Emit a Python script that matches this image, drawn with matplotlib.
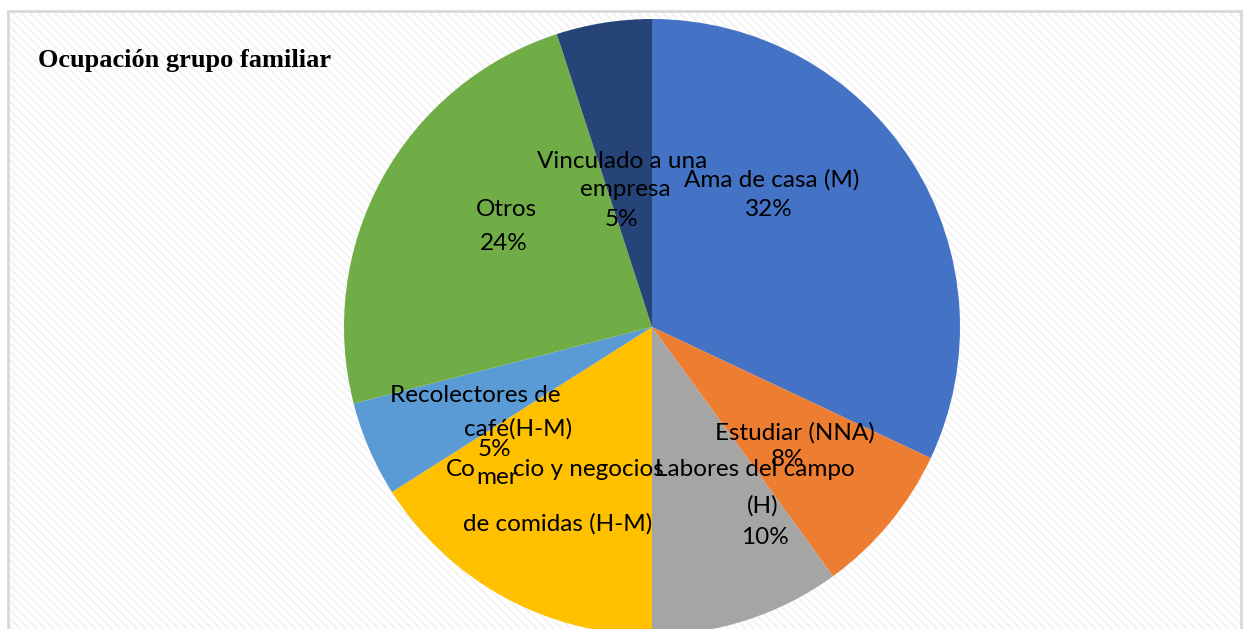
import matplotlib.pyplot as plt
from matplotlib.patches import Rectangle

# datos
ocupaciones = ["Ama de casa (M)", "Estudiar (NNA)", "Labores del campo (H)",
               "Comercio y negocios de comidas (H-M)", "Recolectores de café(H-M)",
               "Otros", "Vinculado a una empresa"]
porcentajes = [32, 8, 10, 16, 5, 24, 5]
colores = ["#4472C4", "#ED7D31", "#A5A5A5", "#FFC000", "#5B9BD5", "#70AD47", "#264478"]
titulo = "Ocupación grupo familiar"

W, H = 1246, 629
plt.rcParams['hatch.linewidth'] = 1.5

fig = plt.figure(figsize=(W / 100, H / 100), dpi=100)
ax = fig.add_axes([0, 0, 1, 1])

def py(y):
    # pixel (desde arriba) -> dato
    return H - y

# fondo con trama y borde
ax.add_patch(Rectangle((8, py(H + 5)), 1233, H + 5 - 11, facecolor='white',
                       edgecolor='#f3f3f3', hatch='\\\\\\\\', lw=0, zorder=0))
ax.add_patch(Rectangle((8, py(H + 5)), 1233, H + 5 - 11, facecolor='none',
                       edgecolor='#d9d9d9', lw=2, zorder=5))

ax.pie(porcentajes, colors=colores, startangle=90, counterclock=False,
       center=(652, py(327)), radius=308, frame=True,
       wedgeprops=dict(linewidth=0), normalize=True)
ax.set_xlim(0, W)
ax.set_ylim(0, H)
ax.set_aspect('auto')
ax.axis('off')

ax.text(38, py(61), titulo, fontsize=19, fontweight='bold',
        family='Liberation Serif', va='center', ha='left')

# etiquetas (tal como las deja Excel, con solapes)
fuente = dict(family='Lato', fontsize=17.5, color='black', va='center', ha='center', zorder=4)
lineas = [
    ("Ama de casa (M)", 772, 180), (f"{porcentajes[0]}%", 769, 210),
    ("Estudiar (NNA)", 795, 433), (f"{porcentajes[1]}%", 788, 459),
    ("Labores del campo", 755, 470), ("(H)", 763, 506), (f"{porcentajes[2]}%", 765, 537),
    ("Recolectores de", 475, 395), ("café(H-M)", 518, 429), (f"{porcentajes[4]}%", 494, 450),
    ("Otros", 506, 210), (f"{porcentajes[5]}%", 504, 243),
    ("Vinculado a una", 622, 161), ("empresa", 625, 190), (f"{porcentajes[6]}%", 621, 220),
    ("Co", 461, 469), ("mer", 497, 477), ("cio y negocios", 588, 469),
    ("de comidas (H-M)", 558, 524),
]
for txt, x, y in lineas:
    ax.text(x, py(y), txt, **fuente)

fig.savefig("out.png", dpi=100)
